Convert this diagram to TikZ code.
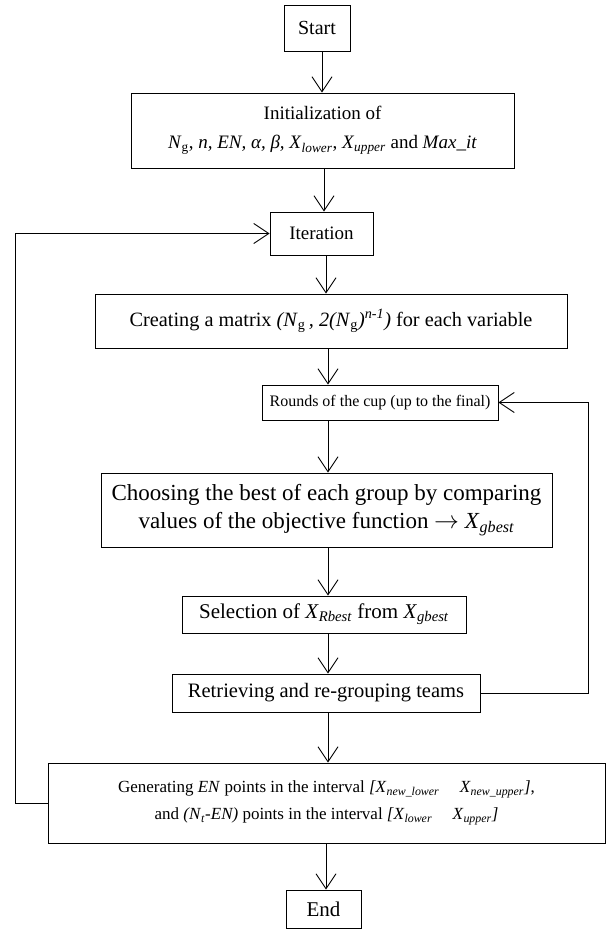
\documentclass[tikz,border=0pt]{standalone}
\usepackage{fontspec}
\setmainfont{Liberation Serif}
\usetikzlibrary{arrows.meta}
\newcommand{\fs}[2]{\fontsize{#1}{#2}\selectfont}
\newcommand{\sbi}[1]{\textsubscript{\textit{#1}}}
\begin{document}
\begin{tikzpicture}[x=1pt,y=-1pt,
  fbox/.style={draw, line width=0.9pt, inner sep=0pt, align=center},
  arr/.style={line width=0.9pt, -{Straight Barb[length=15pt,width=20pt,line width=0.9pt]}}]
\useasboundingbox (0,0) rectangle (606,929);
\node[fbox, font=\fs{20}{24}, minimum width=66pt, minimum height=46pt] (start) at (317,28) {Start};
\node[fbox, font=\fs{19}{29}, minimum width=383pt, minimum height=75pt] (init) at (322.5,130.5)
  {Initialization of\\ \textit{N}\textsubscript{g}, \textit{n, EN, α, β, X}\sbi{lower}, \textit{X}\sbi{upper} and \textit{Max\_it}};
\node[fbox, font=\fs{19}{23}, minimum width=103pt, minimum height=43pt] (iter) at (321.5,233.5) {Iteration};
\node[fbox, font=\fs{20.3}{24}, minimum width=472pt, minimum height=54pt] (create) at (331,321)
  {Creating a matrix \textit{(N}\textsubscript{g}\textit{\,, 2(N}\textsubscript{g}\textit{)}\textsuperscript{\textit{n-1}}\textit{)} for each variable};
\node[fbox, font=\fs{16}{19}, minimum width=236pt, minimum height=35pt] (rounds) at (380,402.5) {Rounds of the cup (up to the final)};
\node[fbox, font=\fs{23}{28.5}, minimum width=451pt, minimum height=74pt] (choose) at (326.5,510)
  {Choosing the best of each group by comparing\\ values of the objective function $\rightarrow$ \textit{X}\sbi{gbest}};
\node[fbox, font=\fs{21}{24}, minimum width=284pt, minimum height=37pt] (select) at (324,614.5)
  {Selection of \textit{X}\sbi{Rbest} from \textit{X}\sbi{gbest}};
\node[fbox, font=\fs{20.5}{24}, minimum width=308pt, minimum height=38pt] (retr) at (326,693) {Retrieving and re-grouping teams};
\node[fbox, font=\fs{17}{27}, minimum width=557pt, minimum height=80pt] (gen) at (326.5,803)
  {Generating \textit{EN} points in the interval \textit{[X}\sbi{new\_lower}\hspace{1.2em}\textit{X}\sbi{new\_upper}\textit{]},\\
   and \textit{(N}\sbi{t}\textit{-EN)} points in the interval \textit{[X}\sbi{lower}\hspace{1.2em}\textit{X}\sbi{upper}\textit{]}};
\node[fbox, font=\fs{21}{24}, minimum width=75pt, minimum height=38pt] (end) at (323.5,909) {End};
\coordinate (a1) at (322,0);
\coordinate (a2) at (324,0);
\coordinate (a3) at (326,0);
\coordinate (a4) at (328,0);
\coordinate (lp) at (15,0);
\coordinate (rp) at (588,0);
\draw[arr] (a1 |- start.south) -- (a1 |- init.north);
\draw[arr] (a2 |- init.south) -- (a2 |- iter.north);
\draw[arr] (a3 |- iter.south) -- (a3 |- create.north);
\draw[arr] (a4 |- create.south) -- (a4 |- rounds.north);
\draw[arr] (a4 |- rounds.south) -- (a4 |- choose.north);
\draw[arr] (a4 |- choose.south) -- (a4 |- select.north);
\draw[arr] (a4 |- select.south) -- (a4 |- retr.north);
\draw[arr] (a4 |- retr.south) -- (a4 |- gen.north);
\draw[arr] (a3 |- gen.south) -- (a3 |- end.north);
\draw[arr] (retr.east) -- (retr.east -| rp) -- (rounds.east -| rp) -- (rounds.east);
\draw[arr] (gen.west) -- (gen.west -| lp) -- (iter.west -| lp) -- (iter.west);
\end{tikzpicture}
\end{document}
